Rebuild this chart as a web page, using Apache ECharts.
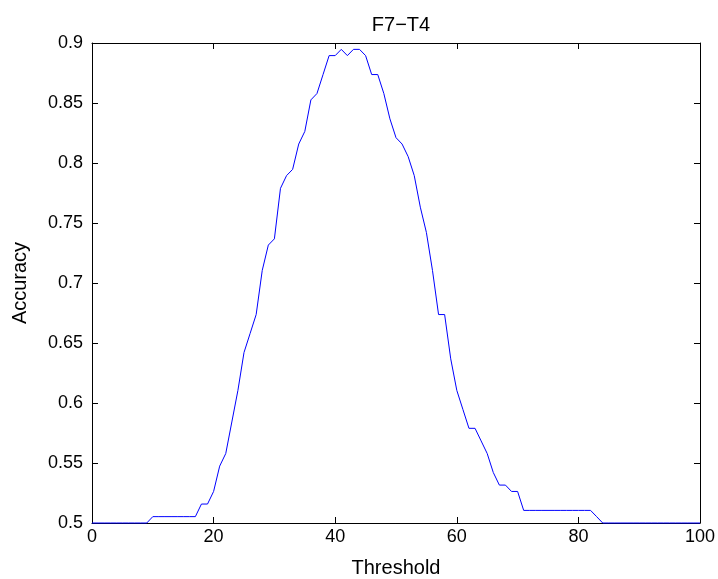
<!DOCTYPE html>
<html>
<head>
<meta charset="utf-8">
<script src="https://cdn.jsdelivr.net/npm/echarts@6/dist/echarts.min.js"></script>
<style>
html,body{margin:0;padding:0;background:#fff;}
#chart{width:718px;height:579px;}
</style>
</head>
<body>
<div id="chart"></div>
<script>
const titleText = "F7\u2212T4";
const xName = "Threshold";
const yName = "Accuracy";
const thresholds = [];
for (let i = 0; i <= 100; i++) thresholds.push(i);
const accuracy = [
  0.5, 0.5, 0.5, 0.5, 0.5, 0.5, 0.5, 0.5, 0.5, 0.5,
  0.5053, 0.5053, 0.5053, 0.5053, 0.5053, 0.5053, 0.5053, 0.5053,
  0.5158, 0.5158, 0.5263, 0.5474, 0.5579, 0.5842, 0.6105, 0.6421,
  0.6579, 0.6737, 0.7105, 0.7316, 0.7368, 0.7789, 0.7895, 0.7947,
  0.8158, 0.8263, 0.8526, 0.8579, 0.8737, 0.8895, 0.8895, 0.8947,
  0.8895, 0.8947, 0.8947, 0.8895, 0.8737, 0.8737, 0.8579, 0.8368,
  0.8211, 0.8158, 0.8053, 0.7895, 0.7632, 0.7421, 0.7105, 0.6737,
  0.6737, 0.6368, 0.6105, 0.5947, 0.5789, 0.5789, 0.5684, 0.5579,
  0.5421, 0.5316, 0.5316, 0.5263, 0.5263,
  0.5105, 0.5105, 0.5105, 0.5105, 0.5105, 0.5105, 0.5105, 0.5105, 0.5105, 0.5105, 0.5105, 0.5105,
  0.5053,
  0.5, 0.5, 0.5, 0.5, 0.5, 0.5, 0.5, 0.5, 0.5, 0.5, 0.5, 0.5, 0.5, 0.5, 0.5, 0.5, 0.5
];
const xTicks = [0, 20, 40, 60, 80, 100];
const yTicks = [0.5, 0.55, 0.6, 0.65, 0.7, 0.75, 0.8, 0.85, 0.9];

const points = thresholds.map((t, i) => [t, accuracy[i]]);
const font = "'Liberation Sans', Arial, Helvetica, sans-serif";
const axisLine = { show: true, onZero: false, lineStyle: { color: '#000', width: 1 } };
const axisTick = { show: true, inside: true, length: 6, lineStyle: { color: '#000', width: 1 } };

const chart = echarts.init(document.getElementById('chart'), null, { renderer: 'canvas' });
chart.setOption({
  backgroundColor: '#fff',
  animation: false,
  title: {
    text: titleText, left: 396, top: 10, textAlign: 'center',
    textStyle: { fontFamily: font, fontSize: 20, fontWeight: 'normal', color: '#000' }
  },
  grid: { left: 92, right: 18, top: 43, bottom: 56, containLabel: false, outerBoundsMode: 'none' },
  xAxis: [
    {
      type: 'value', position: 'bottom', min: 0, max: 100, interval: 20,
      name: xName, nameLocation: 'middle', nameGap: 35,
      nameTextStyle: { fontFamily: font, fontSize: 20, color: '#000' },
      axisLine, axisTick,
      axisLabel: { fontFamily: font, fontSize: 18, color: '#000', margin: 5,
        formatter: v => xTicks.includes(v) ? String(v) : '' },
      splitLine: { show: false }
    },
    {
      type: 'value', position: 'top', min: 0, max: 100, interval: 20,
      axisLine, axisTick, axisLabel: { show: false }, splitLine: { show: false }
    }
  ],
  yAxis: [
    {
      type: 'value', position: 'left', min: 0.5, max: 0.9, interval: 0.05,
      name: yName, nameLocation: 'middle', nameGap: 62, nameRotate: 90,
      nameTextStyle: { fontFamily: font, fontSize: 20, color: '#000' },
      axisLine, axisTick,
      axisLabel: { fontFamily: font, fontSize: 18, color: '#000', margin: 9,
        formatter: v => { const t = yTicks.find(y => Math.abs(y - v) < 1e-6); return t === undefined ? '' : String(t); } },
      splitLine: { show: false }
    },
    {
      type: 'value', position: 'right', min: 0.5, max: 0.9, interval: 0.05,
      axisLine, axisTick, axisLabel: { show: false }, splitLine: { show: false }
    }
  ],
  series: [{
    type: 'line', data: points, xAxisIndex: 0, yAxisIndex: 0,
    showSymbol: false, symbol: 'none', clip: false,
    lineStyle: { color: '#0000ff', width: 1 }
  }]
});
</script>
</body>
</html>
